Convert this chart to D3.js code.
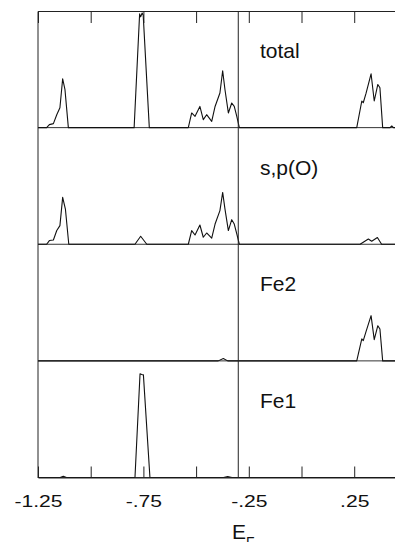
<!DOCTYPE html>
<html>
<head>
<meta charset="utf-8">
<script src="https://cdn.jsdelivr.net/npm/d3@7"></script>
<style>
  html, body { margin: 0; padding: 0; background: #fff; }
  svg { display: block; font-family: "Liberation Sans", Arial, sans-serif; }
</style>
</head>
<body>
<svg id="chart" width="395" height="542"></svg>
<script>
// panel names, top to bottom
var panels = ["total", "s,p(O)", "Fe2", "Fe1"];

// DOS curves, [energy, dos] (arbitrary units)
var totalDos = [
  [-1.25, 0], [-1.209, 0], [-1.196, 0.31], [-1.177, 0.41], [-1.161, 1.33], [-1.146, 2.05],
  [-1.133, 5.03], [-1.122, 3.90], [-1.106, 0],
  [-0.794, 0], [-0.768, 11.7], [-0.763, 11.4], [-0.756, 11.8], [-0.751, 11.6], [-0.722, 0],
  [-0.537, 0], [-0.521, 1.51], [-0.505, 1.16], [-0.482, 2.18], [-0.466, 0.82], [-0.450, 1.33],
  [-0.426, 0.65], [-0.410, 2.18], [-0.387, 3.56], [-0.374, 5.85], [-0.363, 3.90], [-0.347, 1.51],
  [-0.331, 2.53], [-0.319, 2.18], [-0.307, 1.16], [-0.295, 0],
  [0.262, 0], [0.286, 2.74], [0.293, 2.56], [0.306, 3.52], [0.330, 5.54], [0.345, 2.74],
  [0.362, 4.44], [0.372, 4.10], [0.385, 0],
  [0.420, 0], [0.428, 0.17], [0.436, 0], [0.4435, 0]
];
var spODos = [
  [-1.25, 0], [-1.209, 0], [-1.196, 0.38], [-1.177, 0.44], [-1.161, 1.41], [-1.146, 1.92],
  [-1.133, 4.82], [-1.120, 3.62], [-1.104, 0],
  [-0.790, 0], [-0.763, 0.82], [-0.734, 0],
  [-0.537, 0], [-0.521, 1.41], [-0.505, 0.95], [-0.482, 1.98], [-0.466, 0.72], [-0.450, 1.16],
  [-0.426, 0.62], [-0.410, 2.08], [-0.387, 3.46], [-0.374, 5.33], [-0.363, 3.62], [-0.347, 1.41],
  [-0.331, 2.53], [-0.319, 2.08], [-0.307, 1.06], [-0.295, 0],
  [0.278, 0], [0.317, 0.54], [0.333, 0.31], [0.360, 0.69], [0.380, 0], [0.4435, 0]
];
var fe2Dos = [
  [-1.25, 0], [-0.395, 0], [-0.371, 0.25], [-0.350, 0],
  [0.262, 0], [0.286, 2.26], [0.293, 2.08], [0.306, 3.01], [0.330, 4.65], [0.345, 2.18],
  [0.362, 3.62], [0.372, 3.28], [0.385, 0], [0.4435, 0]
];
var fe1Dos = [
  [-1.25, 0], [-1.145, 0], [-1.130, 0.12], [-1.115, 0],
  [-0.790, 0], [-0.766, 10.67], [-0.758, 10.6], [-0.750, 10.56], [-0.719, 0],
  [-0.370, 0], [-0.350, 0.1], [-0.330, 0], [0.4435, 0]
];
var series = [totalDos, spODos, fe2Dos, fe1Dos];

var tickValues = [-1.25, -1.0, -0.75, -0.5, -0.25, 0, 0.25];
var tickLabels = {"-1.25": "-1.25", "-0.75": "-.75", "-0.25": "-.25", "0.25": ".25"};
var fermiEnergy = -0.30;

(function () {
  var svg = d3.select("#chart");
  var plotTop = 11, plotBottom = 477.5;

  var x = d3.scaleLinear().domain([-1.25, 0.4435]).range([38, 395]);
  var band = d3.scaleBand().domain(panels).range([plotTop, plotBottom]);

  var line = d3.line()
    .x(function (d) { return x(d[0]); });

  panels.forEach(function (name, i) {
    var y0 = band(name), y1 = y0 + band.bandwidth();
    var y = d3.scaleLinear().domain([0, 12]).range([y1, y0]);

    // zero line / panel separator
    svg.append("line")
      .attr("x1", x.range()[0]).attr("x2", x.range()[1])
      .attr("y1", y(0)).attr("y2", y(0))
      .attr("stroke", "#333").attr("stroke-width", 1);

    line.y(function (d) { return y(d[1]); });
    svg.append("path")
      .datum(series[i])
      .attr("d", line)
      .attr("fill", "none")
      .attr("stroke", "#111")
      .attr("stroke-width", 1.1)
      .attr("stroke-linejoin", "round");

    svg.append("text")
      .attr("x", 260)
      .attr("y", y0 + 47)
      .attr("font-size", 21)
      .attr("fill", "#111")
      .text(name);
  });

  // left frame
  svg.append("g")
    .attr("transform", "translate(37.5,0)")
    .call(d3.axisLeft(d3.scaleLinear().range([plotTop, plotBottom])).tickValues([]).tickSizeOuter(0))
    .select(".domain").attr("stroke", "#222");

  // top frame with inward ticks
  svg.append("g")
    .attr("transform", "translate(0," + plotTop + ")")
    .call(d3.axisTop(x).tickValues(tickValues).tickSizeInner(-12).tickSizeOuter(0).tickFormat(""))
    .call(function (g) { g.selectAll("line, path").attr("stroke", "#222"); });

  // bottom axis with inward ticks and labels
  var xAxis = svg.append("g")
    .attr("transform", "translate(0," + plotBottom + ")")
    .call(d3.axisBottom(x).tickValues(tickValues).tickSizeInner(-11).tickSizeOuter(0).tickPadding(18)
      .tickFormat(function (d) { return tickLabels[String(d)] || ""; }));
  xAxis.selectAll("line, path").attr("stroke", "#222");
  xAxis.selectAll("text")
    .attr("font-size", 16.5)
    .attr("font-family", "'Liberation Sans', Arial, sans-serif")
    .attr("fill", "#111")
    .attr("transform", "scale(1.28,1)");

  // Fermi level
  svg.append("line")
    .attr("x1", x(fermiEnergy)).attr("x2", x(fermiEnergy))
    .attr("y1", plotTop).attr("y2", plotBottom)
    .attr("stroke", "#222").attr("stroke-width", 1);

  var ef = svg.append("text")
    .attr("x", 232)
    .attr("y", 538.5)
    .attr("font-size", 21)
    .attr("fill", "#111");
  ef.append("tspan").text("E");
  ef.append("tspan").attr("font-size", 14).attr("dy", 8.5).text("F");
})();
</script>
</body>
</html>
